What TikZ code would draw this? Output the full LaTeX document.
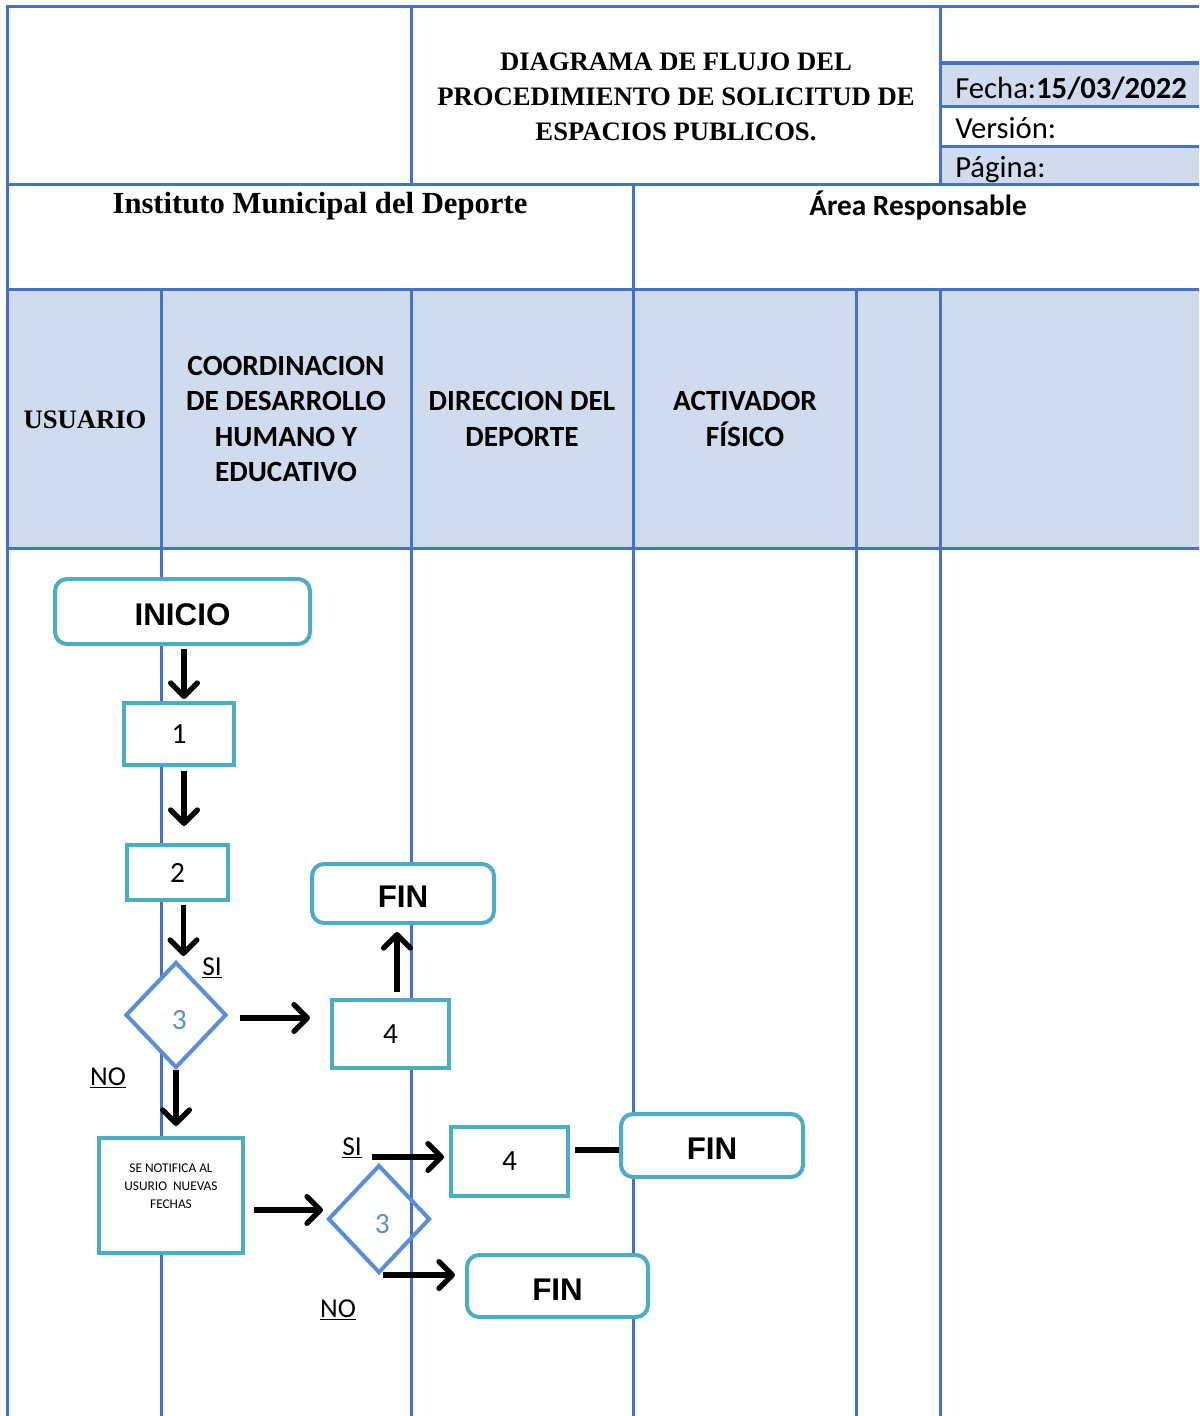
\documentclass[tikz,border=0pt]{standalone}
\usepackage{fontspec}
\setmainfont{Liberation Serif}
\newfontfamily\calfont{Carlito}
\newfontfamily\arifont{Liberation Sans}
\usetikzlibrary{shapes.geometric,arrows.meta,calc}
\definecolor{gridblue}{HTML}{4472C4}
\definecolor{hdrfill}{HTML}{D0DBEE}
\definecolor{boxteal}{HTML}{4BACC6}
\definecolor{diablue}{HTML}{5A8ED6}
\begin{document}
\begin{tikzpicture}[x=0.75pt,y=-0.75pt,
  gridline/.style={gridblue,line width=2.25pt},
  procbox/.style={rectangle,draw=boxteal,line width=3pt,fill=white,inner sep=0pt,font=\calfont\fontsize{22}{26}\selectfont},
  termbox/.style={procbox,rounded corners=9pt,text height=21pt,text depth=0pt,font=\arifont\bfseries\fontsize{23.5}{28}\selectfont},
  decision/.style={diamond,draw=diablue,line width=3pt,inner sep=0pt,text=diablue,text height=22pt,text depth=0pt,font=\calfont\fontsize{22}{26}\selectfont},
  arr/.style={line width=4pt,-{Straight Barb[length=10pt,width=20pt,round]}},
  link/.style={line width=4pt},
  lbl/.style={font=\calfont\fontsize{20.5}{24}\selectfont},
  hdr/.style={align=center,font=\calfont\bfseries\fontsize{22}{26.5}\selectfont},
  info/.style={anchor=base west,inner sep=0pt,font=\calfont\fontsize{23}{28}\selectfont}]
\fill[white] (0,0) rectangle (1199,1416);
\useasboundingbox (0,0) rectangle (1199,1416);
% fills
\fill[hdrfill] (940,63) rectangle (1199,107);
\fill[hdrfill] (940,147) rectangle (1199,184);
\fill[hdrfill] (7,289) rectangle (1199,548);
% grid
\draw[gridline] (7,1416) -- (7,7) -- (1199,7);
\draw[gridline] (411,7) -- (411,184);
\draw[gridline] (940,7) -- (940,184);
\draw[gridline] (7,184) -- (1199,184);
\draw[gridline,line width=3.5pt] (940,63) -- (1199,63);
\draw[gridline] (940,107) -- (1199,107);
\draw[gridline] (940,147) -- (1199,147);
\draw[gridline] (633,184) -- (633,1416);
\draw[gridline] (7,289) -- (1199,289);
\draw[gridline] (7,548) -- (1199,548);
\draw[gridline] (161,289) -- (161,1416);
\draw[gridline] (411,289) -- (411,1416);
\draw[gridline] (856,289) -- (856,1416);
\draw[gridline] (940,289) -- (940,1416);
% header texts
\node[align=center,font=\bfseries\fontsize{20}{26.25}\selectfont] (title) at (676,97) {DIAGRAMA DE FLUJO DEL\\PROCEDIMIENTO DE SOLICITUD DE\\ESPACIOS PUBLICOS.};
\node[font=\bfseries\fontsize{23}{28}\selectfont] (inst) at (320,206) {Instituto Municipal del Deporte};
\node[font=\calfont\bfseries\fontsize{22}{26}\selectfont] (area) at (918,205) {Área Responsable};
\node[info] (fecha) at (955,99) {Fecha:\textbf{15/03/2022}};
\node[info] (version) at (955,139) {Versión:};
\node[info] (pagina) at (955,177) {Página:};
% lane headers
\node[font=\bfseries\fontsize{20}{24}\selectfont] (usuario) at (85,420) {USUARIO};
\node[hdr] (coord) at (286,419) {COORDINACION\\DE DESARROLLO\\HUMANO Y\\EDUCATIVO};
\node[hdr] (dir) at (522,419) {DIRECCION DEL\\DEPORTE};
\node[hdr] (act) at (745,419) {ACTIVADOR\\FÍSICO};
% flow nodes
\node[termbox,minimum width=191.25pt,minimum height=48.75pt] (inicio) at (182.5,611.5) {INICIO};
\node[procbox,minimum width=82.5pt,minimum height=46.5pt] (b1) at (179,734) {1};
\node[procbox,minimum width=75.75pt,minimum height=41.25pt] (b2) at (177.5,872.5) {2};
\node[termbox,minimum width=136.5pt,minimum height=44.25pt] (f1) at (403,893.5) {FIN};
\node[decision,fill=white,minimum width=75.75pt,minimum height=79.5pt] (d1) at (176,1015) {\hspace{5pt}3};
\node[procbox,minimum width=87.75pt,minimum height=51pt] (b4) at (390.5,1034) {4};
\node[procbox,minimum width=108pt,minimum height=86.25pt] (note) at (171,1195.5) {};
\node[align=center,font=\calfont\fontsize{10}{13.5}\selectfont] (notetxt) at (171,1186) {SE NOTIFICA AL\\USURIO~~NUEVAS\\FECHAS};
\node[decision,minimum width=76.5pt,minimum height=81pt] (d2) at (379,1219) {\hspace{5pt}3};
\node[procbox,minimum width=87.75pt,minimum height=51.75pt] (b4b) at (509.5,1161.5) {4};
\node[termbox,minimum width=136.5pt,minimum height=47.25pt] (f2) at (712,1145.5) {FIN};
\node[termbox,minimum width=135.75pt,minimum height=46.5pt] (f3) at (557.5,1286) {FIN};
% labels
\node[lbl] (si1) at (212,968) {\underline{SI}};
\node[lbl] (no1) at (108,1078) {\underline{NO}};
\node[lbl] (si2) at (352,1148) {\underline{SI}};
\node[lbl] (no2) at (338,1310) {\underline{NO}};
% connectors
\draw[arr] ($(inicio.south)+(1.5,3)$) -- ($(inicio.south |- b1.north)+(1.5,-2)$);
\draw[arr] ($(b1.south)+(5,4)$) -- ($(b1.south |- b2.north)+(5,-17)$);
\draw[arr] ($(b2.south)+(6,3)$) -- ($(b2.south |- d1.north)+(6,-4)$);
\draw[arr] ($(d1.east)+(11,3)$) -- ($(d1.east -| b4.west)+(-20,3)$);
\draw[arr] ($(b4.north)+(6.5,-6)$) -- ($(b4.north |- f1.south)+(6.5,7)$);
\draw[arr] (d1.south) -- ($(d1.south |- note.north)+(0,-10)$);
\draw[arr] ($(note.east)+(9,14.5)$) -- ($(note.east -| d2.west)+(-3,14.5)$);
\draw[arr] ($(d2.north)+(-7,-6)$) -- ($(d2.north -| b4b.west)+(-5,-6)$);
\draw[link] ($(b4b.east)+(5,-11.5)$) -- ($(b4b.east -| f2.west)+(0,-11.5)$);
\draw[arr] ($(d2.south)+(4,0)$) -- ($(d2.south -| f3.west)+(-10,0)$);
\end{tikzpicture}
\end{document}
